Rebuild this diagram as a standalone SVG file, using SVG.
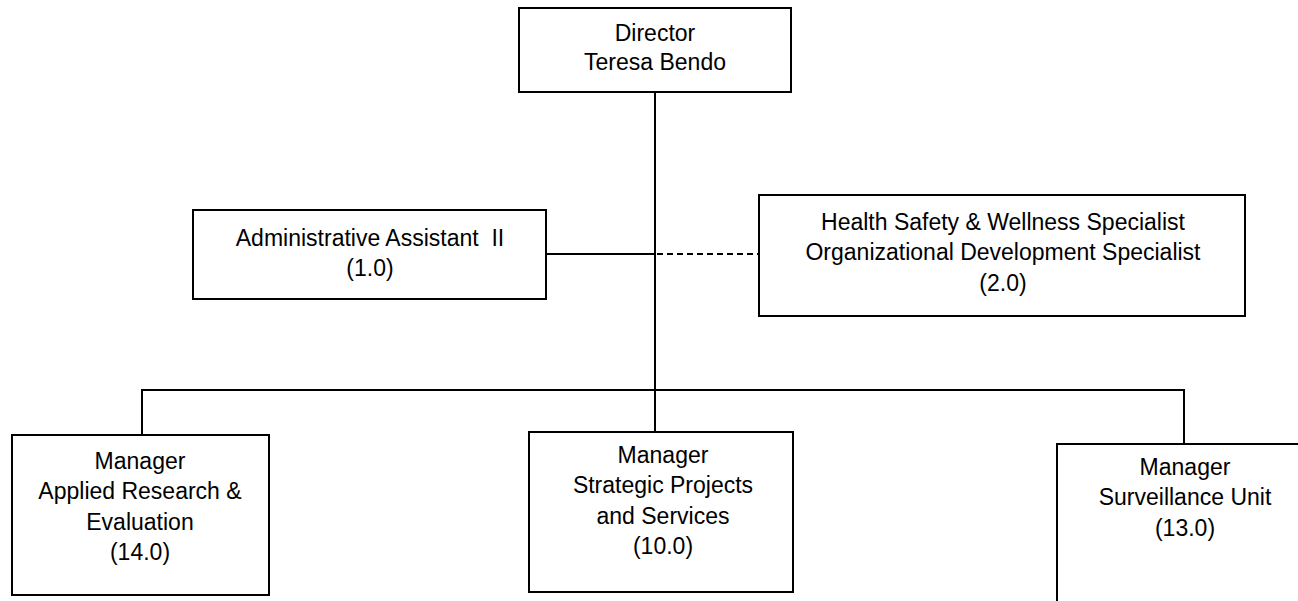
<svg xmlns="http://www.w3.org/2000/svg" width="1298" height="601" viewBox="0 0 1298 601">
<style>
.box{fill:#fff;stroke:#000;stroke-width:2}
.ln{fill:none;stroke:#000;stroke-width:2}
.dash{fill:none;stroke:#000;stroke-width:2;stroke-dasharray:6 4}
text{font-family:"Liberation Sans",Arial,sans-serif;font-size:23px;fill:#000;text-anchor:middle;white-space:pre}
</style>
<rect width="1298" height="601" fill="#fff"/>
<g id="connectors">
<line class="ln" x1="655" y1="92" x2="655" y2="432"/>
<line class="ln" x1="546" y1="254" x2="655" y2="254"/>
<line class="dash" x1="657" y1="254" x2="759" y2="254"/>
<polyline class="ln" points="142,435 142,390 1184,390 1184,444"/>
</g>
<g id="director">
<rect class="box" x="519" y="8" width="272" height="84"/>
<text x="655" y="41">Director</text>
<text x="655" y="70">Teresa Bendo</text>
</g>
<g id="admin">
<rect class="box" x="193" y="210" width="353" height="89"/>
<text x="370" y="246" xml:space="preserve">Administrative Assistant  II</text>
<text x="370" y="276">(1.0)</text>
</g>
<g id="hsw">
<rect class="box" x="759" y="195" width="486" height="121"/>
<text x="1003" y="230">Health Safety &amp; Wellness Specialist</text>
<text x="1003" y="260">Organizational Development Specialist</text>
<text x="1003" y="291">(2.0)</text>
</g>
<g id="applied">
<rect class="box" x="12" y="435" width="257" height="160"/>
<text x="140" y="469">Manager</text>
<text x="140" y="499">Applied Research &amp;</text>
<text x="140" y="530">Evaluation</text>
<text x="140" y="560">(14.0)</text>
</g>
<g id="strategic">
<rect class="box" x="529" y="432" width="264" height="160"/>
<text x="663" y="463">Manager</text>
<text x="663" y="493">Strategic Projects</text>
<text x="663" y="524">and Services</text>
<text x="663" y="554">(10.0)</text>
</g>
<g id="surveillance">
<rect class="box" x="1057" y="444" width="260" height="180"/>
<text x="1185" y="475">Manager</text>
<text x="1185" y="505">Surveillance Unit</text>
<text x="1185" y="536">(13.0)</text>
</g>
</svg>
